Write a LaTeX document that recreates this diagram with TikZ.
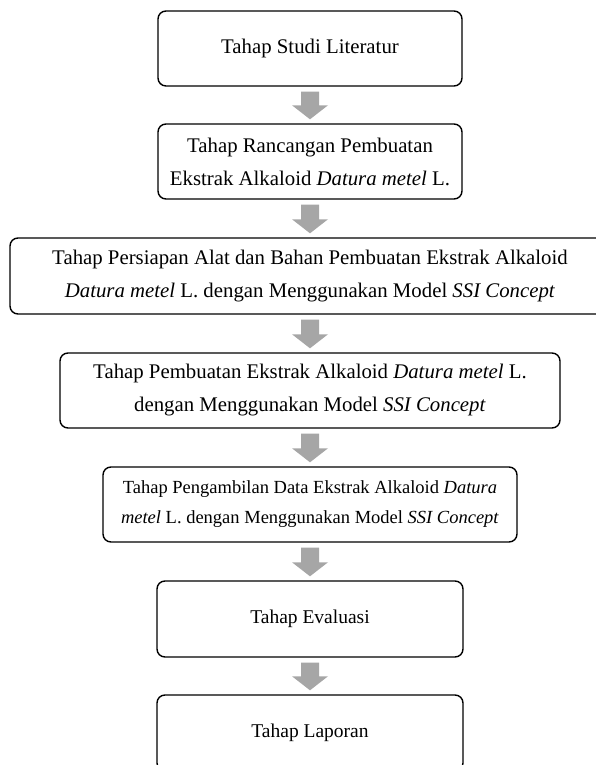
\documentclass[tikz,border=0pt]{standalone}
\usepackage{fontspec}
\setmainfont{Liberation Serif}
\usetikzlibrary{calc}
\definecolor{arrowgray}{RGB}{166,166,166}
\tikzset{
  stagebox/.style={draw=black, line width=1.4pt, rounded corners=8pt, align=center,
    inner sep=0pt, minimum height=75pt, fill=white},
  bigtext/.style={font=\fontsize{20.8}{33}\selectfont},
  midtext/.style={font=\fontsize{19.5}{33}\selectfont},
  smalltext/.style={font=\fontsize{18.5}{30}\selectfont},
  flowarrow/.style={fill=arrowgray, draw=none}
}
\newcommand{\blockarrow}[2]{%
  \fill[flowarrow] ($(#1.south)+(-9,-5)$) -- ($(#1.south)+(9,-5)$)
    -- ($(#2.north)+(9,18)$) -- ($(#2.north)+(18,18)$) -- ($(#2.north)+(0,4)$)
    -- ($(#2.north)+(-18,18)$) -- ($(#2.north)+(-9,18)$) -- cycle;}
\begin{document}
\begin{tikzpicture}[x=1pt,y=1pt]
\useasboundingbox (0,0) rectangle (596,765);
\fill[white] (0,0) rectangle (596,765);
\clip (0,0) rectangle (596,765);
\node[stagebox, minimum width=304pt, bigtext] (s1) at (310,716.5) {Tahap Studi Literatur};
\node[stagebox, minimum width=304pt, bigtext] (s2) at (310,603.5)
  {Tahap Rancangan Pembuatan\\Ekstrak Alkaloid \textit{Datura metel} L.};
\node[stagebox, minimum width=600pt, minimum height=76pt, bigtext] (s3) at (310,489)
  {Tahap Persiapan Alat dan Bahan Pembuatan Ekstrak Alkaloid\\\textit{Datura metel} L. dengan Menggunakan Model \textit{SSI Concept}};
\node[stagebox, minimum width=500pt, bigtext] (s4) at (310,374.5)
  {Tahap Pembuatan Ekstrak Alkaloid \textit{Datura metel} L.\\dengan Menggunakan Model \textit{SSI Concept}};
\node[stagebox, minimum width=414pt, smalltext] (s5) at (310,260.5)
  {Tahap Pengambilan Data Ekstrak Alkaloid \textit{Datura}\\\textit{metel} L. dengan Menggunakan Model \textit{SSI Concept}};
\node[stagebox, minimum width=306pt, minimum height=76pt, midtext] (s6) at (310,146) {Tahap Evaluasi};
\node[stagebox, minimum width=306pt, minimum height=76pt, midtext] (s7) at (310,32) {Tahap Laporan};
\blockarrow{s1}{s2}
\blockarrow{s2}{s3}
\blockarrow{s3}{s4}
\blockarrow{s4}{s5}
\blockarrow{s5}{s6}
\blockarrow{s6}{s7}
\end{tikzpicture}
\end{document}
